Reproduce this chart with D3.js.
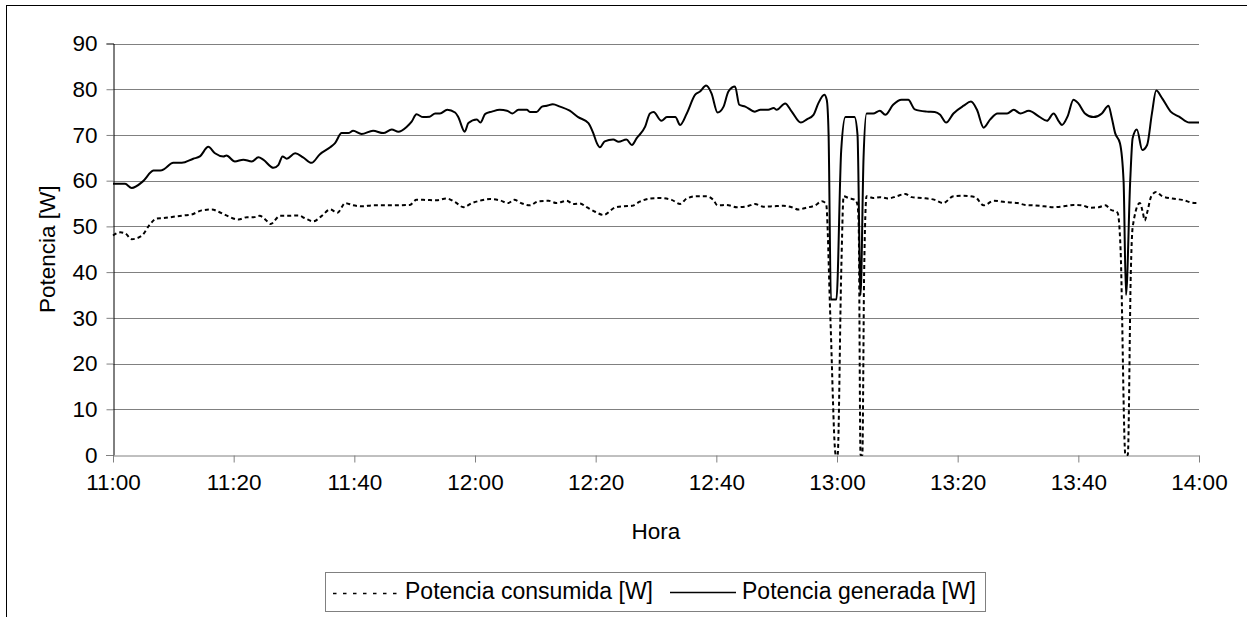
<!DOCTYPE html>
<html>
<head>
<meta charset="utf-8">
<script src="https://cdn.jsdelivr.net/npm/d3@7"></script>
<style>
  body { margin: 0; background: #fff; }
  svg text { font-family: Arial, "Liberation Sans", sans-serif; fill: #000; }
</style>
</head>
<body>
<div id="chart"></div>
<script>
// minutes after 11:00 and watts
const genMin = [0, 2.0, 3.1, 5.0, 6.7, 8.1, 10.0, 11.4, 13.3, 14.4, 15.8, 16.9, 18.3, 18.8, 20.2, 21.6, 23.0, 24.1, 24.9, 26.6,
  27.4, 28.1, 28.8, 30.2, 31.5, 32.9, 34.3, 36.0, 36.8, 37.9, 39.0, 39.8, 41.2, 43.1, 44.8, 46.2, 47.3, 48.7, 49.5, 50.3,
  51.4, 52.5, 53.4, 54.2, 55.4, 56.7, 57.2, 58.3, 58.9, 60.3, 60.9, 61.7, 62.8, 64.1, 65.3, 66.2, 67.2, 68.6, 69.1, 70.2,
  71.1, 71.9, 72.9, 74.1, 75.7, 77.1, 78.8, 79.6, 80.2, 80.7, 81.5, 82.9, 83.8, 85.1, 86.0, 86.8, 88.2, 89.0, 89.6, 90.9,
  91.8, 93.2, 94.0, 95.1, 96.5, 97.3, 98.3, 99.2, 100.2, 101.2, 102.0, 103.1, 103.8, 104.8, 106.4, 107.3, 108.6, 109.5, 110.0, 111.4,
  112.5, 114.0, 115.0, 116.1, 116.9, 117.9, 118.3, 118.6, 119.0, 119.9, 120.7, 121.4, 122.9, 123.4, 123.9, 124.4, 124.9, 126.0, 127.1, 128.0,
  129.3, 130.7, 131.8, 132.9, 134.9, 136.2, 137.1, 138.1, 139.3, 141.0, 142.2, 143.2, 144.3, 145.4, 146.6, 148.2, 149.3, 150.4, 151.8, 153.5,
  154.8, 155.9, 156.8, 157.3, 158.2, 159.2, 160.0, 161.1, 162.5, 163.9, 165.0, 165.5, 166.1, 166.9, 167.5, 167.9, 168.6, 169.0, 169.7, 170.6,
  171.4, 172.2, 172.9, 173.9, 175.3, 176.7, 178.4, 180.0];
const genW = [59.3, 59.3, 58.4, 59.9, 62.2, 62.3, 63.9, 63.9, 64.8, 65.3, 67.4, 66.0, 65.3, 65.5, 64.2, 64.6, 64.2, 65.1, 64.6, 62.8,
  63.4, 65.3, 64.8, 66.0, 65.1, 63.9, 65.8, 67.3, 68.2, 70.4, 70.4, 70.9, 70.2, 70.9, 70.4, 71.2, 70.7, 71.8, 72.9, 74.5,
  73.9, 74.0, 74.7, 74.7, 75.5, 74.9, 74.0, 70.7, 72.6, 73.4, 72.7, 74.6, 75.1, 75.5, 75.3, 74.7, 75.5, 75.5, 75.0, 75.0,
  76.2, 76.4, 76.7, 76.2, 75.3, 73.9, 72.6, 70.4, 68.2, 67.3, 68.6, 69.0, 68.5, 69.0, 67.8, 69.3, 71.8, 74.7, 75.0, 73.1,
  73.9, 73.9, 72.2, 74.7, 78.8, 79.5, 80.8, 79.1, 74.9, 76.2, 79.5, 80.6, 76.6, 76.2, 75.1, 75.5, 75.5, 75.9, 75.5, 76.9,
  75.1, 72.7, 73.4, 74.4, 76.9, 78.8, 77.7, 70.4, 34.0, 34.0, 66.7, 73.9, 73.9, 70.0, 35.0, 65.0, 74.7, 74.7, 75.3, 74.4,
  76.6, 77.7, 77.7, 75.6, 75.1, 75.0, 74.4, 72.7, 74.7, 76.4, 77.3, 75.5, 71.6, 73.4, 74.7, 74.7, 75.5, 74.7, 75.3, 74.0,
  73.1, 74.7, 72.9, 72.2, 74.0, 77.7, 76.9, 74.7, 73.9, 74.7, 76.4, 74.0, 70.4, 68.2, 59.9, 35.0, 60.0, 69.3, 71.2, 66.7,
  67.8, 74.7, 79.7, 78.0, 75.1, 74.0, 72.7, 72.7];

const conMin = [0, 1.2, 2.0, 3.1, 4.8, 6.1, 7.2, 8.3, 10.0, 11.7, 13.0, 14.7, 16.4, 17.5, 18.8, 20.8, 22.2, 23.3, 24.3, 25.5,
  26.1, 27.7, 29.1, 30.7, 31.8, 33.2, 34.6, 36.0, 37.2, 38.5, 39.8, 41.5, 42.9, 44.3, 45.9, 49.2, 50.3, 51.4, 53.6, 55.3,
  56.7, 58.1, 59.5, 61.1, 62.5, 64.1, 65.5, 66.5, 67.8, 69.1, 70.5, 72.2, 73.5, 75.2, 76.3, 77.4, 78.5, 79.9, 81.3, 83.2,
  84.6, 86.0, 87.3, 89.0, 90.6, 92.6, 94.0, 95.1, 96.8, 98.4, 99.5, 100.2, 101.7, 103.4, 105.1, 106.4, 107.8, 109.5, 111.1, 112.5,
  113.6, 115.0, 116.4, 117.5, 118.2, 118.9, 119.8, 120.1, 120.7, 121.1, 121.9, 123.0, 123.4, 123.6, 123.9, 124.2, 124.5, 124.9, 126.0, 127.1,
  128.5, 129.9, 131.3, 132.4, 134.2, 136.2, 137.6, 139.3, 141.0, 142.9, 144.3, 146.0, 147.9, 149.9, 151.2, 152.6, 154.3, 155.9, 157.6, 159.2,
  160.6, 162.0, 163.4, 164.5, 165.3, 166.5, 167.0, 167.8, 168.2, 168.7, 169.0, 170.2, 170.7, 171.0, 171.4, 172.1, 172.9, 173.9, 175.6, 177.2,
  179.4, 180.0];
const conW = [48.0, 48.7, 48.5, 47.2, 48.0, 50.4, 51.7, 51.8, 52.1, 52.4, 52.6, 53.5, 53.7, 53.2, 52.4, 51.5, 52.0, 52.0, 52.3, 51.2,
  50.5, 52.3, 52.3, 52.4, 51.8, 51.1, 52.3, 53.7, 53.0, 55.1, 54.6, 54.4, 54.6, 54.6, 54.6, 54.7, 55.8, 55.8, 55.7, 56.1,
  55.3, 54.2, 55.1, 55.7, 56.0, 55.7, 55.1, 55.8, 55.0, 54.6, 55.5, 55.6, 55.1, 55.6, 54.9, 55.0, 54.2, 53.2, 52.5, 54.1,
  54.4, 54.5, 55.4, 56.1, 56.2, 55.8, 54.9, 56.1, 56.6, 56.6, 55.8, 54.6, 54.7, 54.2, 54.4, 54.9, 54.3, 54.4, 54.5, 54.2,
  53.7, 54.1, 54.6, 55.5, 54.9, 30, 0, 0, 40, 56.6, 56.2, 55.8, 54.7, 50, 0, 0, 40, 56.6, 56.2, 56.4,
  56.1, 56.6, 57.1, 56.4, 56.2, 55.8, 55.1, 56.6, 56.7, 56.4, 54.6, 55.6, 55.3, 55.1, 54.7, 54.6, 54.4, 54.2, 54.4, 54.7,
  54.6, 54.1, 54.2, 54.6, 53.7, 53.0, 45, 0, 0, 40, 49.8, 55.1, 53.0, 51.3, 53.0, 56.6, 57.5, 56.6, 56.1, 55.8,
  55.1, 55.1];

const yTicks = [0, 10, 20, 30, 40, 50, 60, 70, 80, 90];
const seriesNames = ["Potencia consumida [W]", "Potencia generada [W]"];

const width = 1247, height = 617;
const plot = { left: 113, right: 1199, top: 43.5, bottom: 455 };

const t0 = new Date(2000, 0, 1, 11, 0);
const toDate = m => new Date(t0.getTime() + m * 60000);

const svg = d3.select("#chart").append("svg")
  .attr("width", width).attr("height", height);

// outer frame (runs off the right and bottom edges)
svg.append("rect")
  .attr("x", 6.5).attr("y", 5.5).attr("width", 1400).attr("height", 800)
  .attr("fill", "none").attr("stroke", "#000");

const x = d3.scaleTime().domain([t0, toDate(180)]).range([plot.left, plot.right]);
const y = d3.scaleLinear().domain([0, 90]).range([plot.bottom, plot.top]);

// gridlines
svg.append("g").selectAll("line").data(yTicks.slice(1)).join("line")
  .attr("x1", plot.left).attr("x2", plot.right)
  .attr("y1", d => Math.round(y(d)) + 0.5).attr("y2", d => Math.round(y(d)) + 0.5)
  .attr("stroke", "#808080");

// y axis
const yAxis = svg.append("g").attr("transform", `translate(${plot.left + 0.5},0)`)
  .call(d3.axisLeft(y).tickValues(yTicks).tickSize(7).tickPadding(9));
yAxis.select(".domain").attr("stroke", "#000");
yAxis.selectAll(".tick line").attr("stroke", "#808080");
yAxis.selectAll("text").attr("font-size", 22.5).attr("font-family", "Arial, 'Liberation Sans', sans-serif");

// x axis
const xAxis = svg.append("g").attr("transform", `translate(0,${Math.round(plot.bottom) + 0.5})`)
  .call(d3.axisBottom(x).ticks(d3.timeMinute.every(20)).tickFormat(d3.timeFormat("%H:%M"))
    .tickSize(7).tickSizeOuter(0).tickPadding(12));
xAxis.select(".domain").attr("stroke", "#808080");
xAxis.selectAll(".tick line").attr("stroke", "#808080");
xAxis.selectAll("text").attr("font-size", 22.5).attr("font-family", "Arial, 'Liberation Sans', sans-serif");

// axis titles
svg.append("text").attr("x", (plot.left + plot.right) / 2).attr("y", 539)
  .attr("text-anchor", "middle").attr("font-size", 22.5).text("Hora");
svg.append("text").attr("transform", `translate(55,${(plot.top + plot.bottom) / 2}) rotate(-90)`)
  .attr("text-anchor", "middle").attr("font-size", 22.5).text("Potencia [W]");

// lines
const line = d3.line().x(d => x(d[0])).y(d => y(d[1])).curve(d3.curveMonotoneX);
const conData = conMin.map((m, i) => [toDate(m), conW[i]]);
const genData = genMin.map((m, i) => [toDate(m), genW[i]]);

svg.append("path").datum(conData).attr("d", line)
  .attr("fill", "none").attr("stroke", "#000").attr("stroke-width", 2)
  .attr("stroke-dasharray", "4,3");
svg.append("path").datum(genData).attr("d", line)
  .attr("fill", "none").attr("stroke", "#000").attr("stroke-width", 2);

// legend
const lg = svg.append("g");
lg.append("rect").attr("x", 325.5).attr("y", 572.5).attr("width", 660).attr("height", 39)
  .attr("fill", "#fff").attr("stroke", "#808080");
lg.append("line").attr("x1", 333).attr("x2", 401).attr("y1", 593.5).attr("y2", 593.5)
  .attr("stroke", "#000").attr("stroke-width", 1.5).attr("stroke-dasharray", "3.5,6.5");
lg.append("text").attr("x", 405).attr("y", 599).attr("font-size", 23).text(seriesNames[0]);
lg.append("line").attr("x1", 670).attr("x2", 736).attr("y1", 592.5).attr("y2", 592.5)
  .attr("stroke", "#000").attr("stroke-width", 1.5);
lg.append("text").attr("x", 742).attr("y", 599).attr("font-size", 23).text(seriesNames[1]);
</script>
</body>
</html>
